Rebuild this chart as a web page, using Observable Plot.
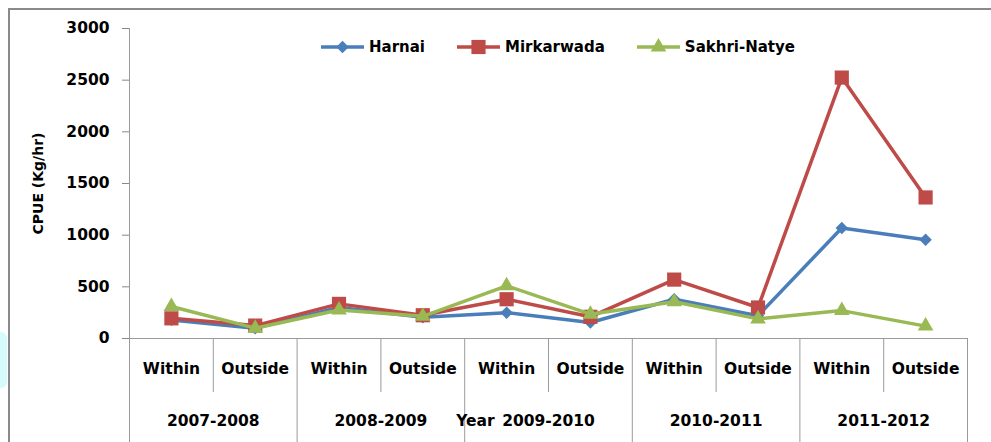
<!DOCTYPE html>
<html><head><meta charset="utf-8">
<script src="https://cdn.jsdelivr.net/npm/d3@7"></script>
<script src="https://cdn.jsdelivr.net/npm/@observablehq/plot@0.6"></script>
<style>
body{margin:0;background:#fff;}
#wrap{position:relative;width:991px;height:442px;overflow:hidden;font-family:"DejaVu Sans",sans-serif;}
#wrap svg.chart{position:absolute;left:0;top:0;}
#frame{position:absolute;left:8px;top:8px;right:-10px;bottom:-10px;border-left:2px solid #8a8a8a;border-top:2px solid #8a8a8a;pointer-events:none;}
#blob{position:absolute;left:0;top:332px;width:7px;height:56px;background:#d6fbfb;border-radius:0 6px 6px 0;}
#legend{position:absolute;top:37px;left:321px;display:flex;align-items:center;height:20px;font-weight:bold;font-size:15px;color:#000;}
.item{display:flex;align-items:center;margin-right:32px;}
.item svg{margin-right:5px;display:block;}
</style></head>
<body><div id="wrap"><div id="blob"></div><div id="chart"></div><div id="frame"></div><div id="legend"></div></div>
<script>
// ---- data ----
const periods = ["Within","Outside","Within","Outside","Within","Outside","Within","Outside","Within","Outside"];
const years = ["2007-2008","2008-2009","2009-2010","2010-2011","2011-2012"];
const seriesNames = ["Harnai","Mirkarwada","Sakhri-Natye"];
const harnai      = [180, 100, 300, 205, 250, 155, 380, 220, 1070, 955];
const mirkarwada  = [195, 125, 335, 225, 380, 210, 570, 300, 2525, 1365];
const sakhriNatye = [310, 100, 275, 215, 510, 235, 355, 190, 270, 120];
const yTicks = [0, 500, 1000, 1500, 2000, 2500, 3000];
const yTitle = "CPUE (Kg/hr)";
const xTitle = "Year";

// ---- styling ----
const colors = ["#4A7EBB", "#BE4B48", "#98B954"];
const symbols = ["diamond2", "square", "triangle"];
const radii = [5.6, 8, 5.8];
const gray = "#9a9a9a";

const values = [harnai, mirkarwada, sakhriNatye];
const rows = [];
seriesNames.forEach((s, k) => values[k].forEach((v, i) => rows.push({series: s, i, v})));

const seriesMarks = seriesNames.flatMap((s, k) => {
  const d = rows.filter(r => r.series === s);
  return [
    Plot.line(d, {x: "i", y: "v", stroke: colors[k], strokeWidth: 3.5}),
    Plot.dot(d, {x: "i", y: "v", symbol: symbols[k], r: radii[k], fill: colors[k], stroke: "none"})
  ];
});

const yearBounds = [-0.5, ...years.map((_, j) => 2 * j + 1.5)];
const halfBounds = years.map((_, j) => 2 * j + 0.5);

const plot = Plot.plot({
  width: 991, height: 442,
  marginLeft: 129, marginRight: 24, marginTop: 28, marginBottom: 104,
  x: {domain: [-0.5, periods.length - 0.5], axis: null},
  y: {domain: [0, 3000]},
  style: {fontFamily: "'DejaVu Sans', sans-serif", fontSize: "15.5px", fontWeight: "bold", color: "#000", background: "transparent", overflow: "visible"},
  marks: [
    Plot.axisY({ticks: yTicks, tickFormat: "d", tickSize: 7, tickPadding: 13, stroke: "#888", fill: "#000", label: null}),
    Plot.ruleX(yearBounds, {x: d => d, y1: 3000, y2: 0, insetBottom: -104, stroke: gray, filter: d => d === -0.5}),
    Plot.ruleX(yearBounds, {x: d => d, y1: 0, y2: 0, insetBottom: -104, stroke: gray, filter: d => d !== -0.5}),
    Plot.ruleX(halfBounds, {x: d => d, y1: 0, y2: 0, insetBottom: -54, stroke: gray}),
    Plot.ruleY([0], {x1: -0.5, x2: periods.length - 0.5, stroke: gray}),
    Plot.text(periods, {x: (d, i) => i, text: d => d, frameAnchor: "bottom", dy: 35}),
    Plot.text(years, {x: (d, j) => 2 * j + 0.5, text: d => d, frameAnchor: "bottom", dy: 87}),
    Plot.text([xTitle], {text: d => d, frameAnchor: "bottom", dx: -73, dy: 87}),
    Plot.text([yTitle], {text: d => d, frameAnchor: "left", textAnchor: "middle", dx: -91, rotate: -90, fontSize: 14}),
    ...seriesMarks
  ]
});
plot.classList.add("chart");
document.getElementById("chart").appendChild(plot);

// ---- legend ----
const legend = document.getElementById("legend");
seriesNames.forEach((s, k) => {
  const item = document.createElement("div");
  item.className = "item";
  const sym = d3.symbol(k === 0 ? d3.symbolDiamond2 : k === 1 ? d3.symbolSquare : d3.symbolTriangle, Math.PI * radii[k] * radii[k])();
  item.innerHTML = `<svg width="43" height="20"><line x1="0" x2="43" y1="10" y2="10" stroke="${colors[k]}" stroke-width="3.5"/><path d="${sym}" transform="translate(21.5,10)" fill="${colors[k]}"/></svg><span>${s}</span>`;
  legend.appendChild(item);
});
</script>
</body></html>
